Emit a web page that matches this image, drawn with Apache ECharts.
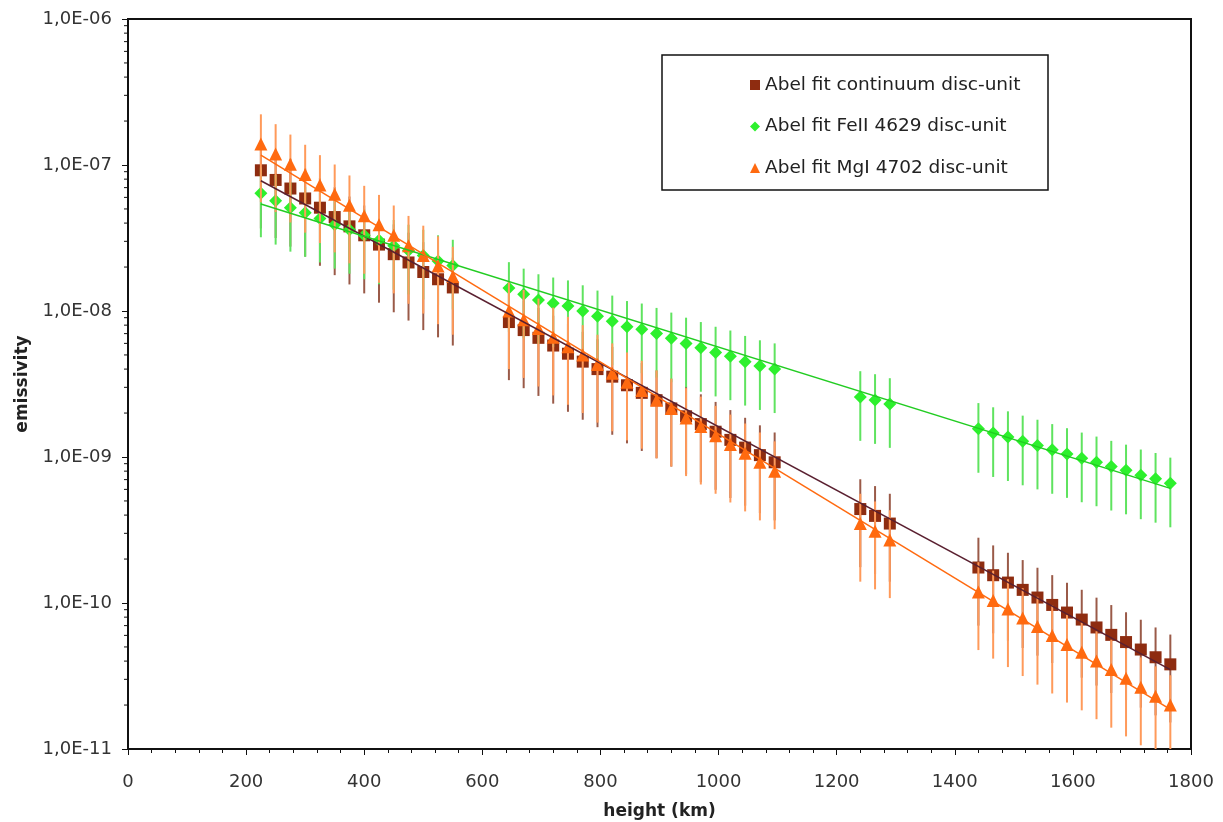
<!DOCTYPE html>
<html><head><meta charset="utf-8">
<script src="https://cdn.jsdelivr.net/npm/echarts@6/dist/echarts.min.js"></script>
<style>html,body{margin:0;padding:0;background:#fff}#chart{width:1223px;height:822px}</style>
</head><body><div id="chart"></div>
<script>
// heights (km)
const heights = [225,250,275,300,325,350,375,400,425,450,475,500,525,550,
  645,670,695,720,745,770,795,820,845,870,895,920,945,970,995,1020,1045,1070,1095,
  1240,1265,1290,
  1440,1465,1490,1515,1540,1565,1590,1615,1640,1665,1690,1715,1740,1765];

const continuum = [9.2e-8,7.9e-8,6.9e-8,5.9e-8,5.1e-8,4.4e-8,3.8e-8,3.3e-8,2.85e-8,2.45e-8,2.15e-8,1.85e-8,1.65e-8,1.45e-8,
  8.4e-9,7.4e-9,6.55e-9,5.8e-9,5.1e-9,4.5e-9,4.0e-9,3.55e-9,3.1e-9,2.75e-9,2.45e-9,2.15e-9,1.9e-9,1.68e-9,1.49e-9,1.31e-9,1.16e-9,1.03e-9,9.2e-10,
  4.4e-10,3.95e-10,3.5e-10,
  1.75e-10,1.55e-10,1.38e-10,1.23e-10,1.09e-10,9.7e-11,8.6e-11,7.7e-11,6.8e-11,6.05e-11,5.4e-11,4.8e-11,4.25e-11,3.8e-11];

const feII = [6.4e-8,5.7e-8,5.1e-8,4.7e-8,4.3e-8,3.9e-8,3.6e-8,3.3e-8,3.05e-8,2.8e-8,2.6e-8,2.4e-8,2.2e-8,2.05e-8,
  1.44e-8,1.30e-8,1.19e-8,1.13e-8,1.08e-8,1.0e-8,9.2e-9,8.5e-9,7.8e-9,7.5e-9,7.0e-9,6.5e-9,6.0e-9,5.6e-9,5.2e-9,4.9e-9,4.5e-9,4.2e-9,4.0e-9,
  2.58e-9,2.46e-9,2.31e-9,
  1.56e-9,1.46e-9,1.37e-9,1.28e-9,1.2e-9,1.12e-9,1.05e-9,9.8e-10,9.2e-10,8.6e-10,8.1e-10,7.5e-10,7.1e-10,6.6e-10];

const mgI = [1.39e-7,1.19e-7,1.01e-7,8.6e-8,7.3e-8,6.3e-8,5.3e-8,4.5e-8,3.9e-8,3.3e-8,2.8e-8,2.4e-8,2.03e-8,1.72e-8,
  1.0e-8,8.7e-9,7.6e-9,6.6e-9,5.7e-9,5.0e-9,4.3e-9,3.75e-9,3.25e-9,2.85e-9,2.45e-9,2.15e-9,1.85e-9,1.62e-9,1.4e-9,1.22e-9,1.06e-9,9.2e-10,8.0e-10,
  3.5e-10,3.1e-10,2.7e-10,
  1.19e-10,1.04e-10,9.1e-11,7.9e-11,6.9e-11,6.0e-11,5.2e-11,4.6e-11,4.0e-11,3.5e-11,3.05e-11,2.65e-11,2.3e-11,2.0e-11];

// relative error (fraction) of each series
const errContinuum = 0.6;
const errFeII = 0.5;
const errMgI = 0.6;

// exponential fit lines (end points)
const fitX = [225, 1765];
const fitContinuum = [7.8e-8, 3.5e-11];
const fitFeII = [5.4e-8, 6.1e-10];
const fitMgI = [1.17e-7, 1.87e-11];

const seriesNames = ['Abel fit continuum disc-unit', 'Abel fit FeII 4629 disc-unit', 'Abel fit MgI 4702 disc-unit'];

// axis ticks
const xTicks = [0,200,400,600,800,1000,1200,1400,1600,1800];
const yDecades = [-11,-10,-9,-8,-7,-6];
const yMinorMultipliers = [2,3,4,5,6,7,8,9];

const FONT = 'DejaVu Sans';
const minorY = [];
yDecades.slice(0, -1).forEach(d => yMinorMultipliers.forEach(m => minorY.push([0, m * Math.pow(10, d)])));

function errSeries(vals, frac, color, z) {
  return {
    type: 'custom', z: z, silent: true, clip: true,
    data: heights.map((h, i) => [h, vals[i] * (1 - frac), vals[i] * (1 + frac)]),
    encode: { x: 0, y: [1, 2] },
    renderItem: (params, api) => {
      const lo = api.coord([api.value(0), api.value(1)]);
      const hi = api.coord([api.value(0), api.value(2)]);
      return { type: 'line', shape: { x1: lo[0], y1: lo[1], x2: hi[0], y2: hi[1] },
        style: { stroke: color, lineWidth: 2 } };
    }
  };
}
function markerSeries(name, vals, symbol, size, color, z) {
  return { type: 'scatter', name: name, z: z, symbol: symbol, symbolSize: size,
    itemStyle: { color: color, opacity: 1 },
    data: heights.map((h, i) => [h, vals[i]]) };
}
function fitSeries(vals, color, z) {
  return { type: 'line', z: z, silent: true, symbol: 'none',
    lineStyle: { color: color, width: 1.5 },
    data: fitX.map((x, i) => [x, vals[i]]) };
}

const chart = echarts.init(document.getElementById('chart'), null, { renderer: 'canvas' });
chart.setOption({
  animation: false,
  backgroundColor: '#fff',
  grid: { left: 128, right: 32, top: 19, bottom: 73, show: true, borderColor: '#111', borderWidth: 2,
    backgroundColor: 'transparent', containLabel: false, outerBoundsMode: 'none' },
  legend: {
    data: seriesNames, orient: 'vertical', left: 745, top: 70,
    itemGap: 21.5, itemWidth: 10, itemHeight: 10,
    textStyle: { fontFamily: FONT, fontSize: 18.5, color: '#222', lineHeight: 20 }
  },
  graphic: [{ type: 'rect', z: 0, shape: { x: 662, y: 55, width: 386, height: 135 },
    style: { fill: '#fff', stroke: '#111', lineWidth: 1.5 } }],
  xAxis: {
    type: 'value', min: xTicks[0], max: xTicks[xTicks.length - 1], interval: 200,
    name: 'height (km)', nameLocation: 'middle', nameGap: 54,
    nameTextStyle: { fontFamily: FONT, fontSize: 17, fontWeight: 'bold', color: '#222' },
    axisLine: { lineStyle: { color: '#111', width: 2 } },
    axisTick: { inside: false, length: 6, lineStyle: { color: '#111' } },
    minorTick: { show: true, splitNumber: 5, length: 4, lineStyle: { color: '#111' } },
    splitLine: { show: false },
    axisLabel: { fontFamily: FONT, fontSize: 18, color: '#333', margin: 24, formatter: v => String(v) }
  },
  yAxis: {
    type: 'log', logBase: 10, min: Math.pow(10, yDecades[0]), max: Math.pow(10, yDecades[yDecades.length - 1]), splitNumber: 5,
    name: 'emissivity', nameLocation: 'middle', nameGap: 97,
    nameTextStyle: { fontFamily: FONT, fontSize: 17, fontWeight: 'bold', color: '#222' },
    axisLine: { show: true, lineStyle: { color: '#111', width: 2 } },
    axisTick: { inside: false, length: 6, lineStyle: { color: '#111' } },
    splitLine: { show: false },
    axisLabel: { fontFamily: FONT, fontSize: 18, color: '#333', margin: 16,
      formatter: v => { const e = Math.round(Math.log10(v)); return '1,0E-' + String(Math.abs(e)).padStart(2, '0'); } }
  },
  series: [
    { type: 'custom', silent: true, clip: false, z: 1, data: minorY, encode: { x: 0, y: 1 },
      renderItem: (params, api) => {
        const p = api.coord([api.value(0), api.value(1)]);
        return { type: 'line', shape: { x1: p[0] - 4, y1: p[1], x2: p[0], y2: p[1] }, style: { stroke: '#111', lineWidth: 1 } };
      } },
    errSeries(continuum, errContinuum, '#9a5a48', 2),
    markerSeries(seriesNames[0], continuum, 'rect', 12, '#8e2c10', 3),
    errSeries(feII, errFeII, '#5fe35f', 4),
    markerSeries(seriesNames[1], feII, 'diamond', 13, '#2df02d', 5),
    errSeries(mgI, errMgI, '#ff9a5a', 6),
    markerSeries(seriesNames[2], mgI, 'triangle', 13, '#ff6a10', 7),
    fitSeries(fitContinuum, '#5a2030', 8),
    fitSeries(fitFeII, '#22cc22', 8),
    fitSeries(fitMgI, '#ff6a10', 8)
  ]
});
</script>
</body></html>
